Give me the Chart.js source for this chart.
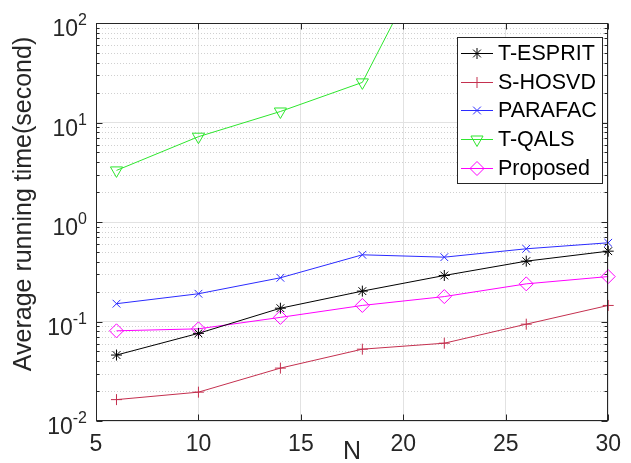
<!DOCTYPE html>
<html>
<head>
<meta charset="utf-8">
<title>Average running time</title>
<script src="https://cdn.jsdelivr.net/npm/chart.js@4.4.0/dist/chart.umd.min.js"></script>
<style>
  html, body { margin: 0; padding: 0; background: #fff; }
  #wrap { width: 631px; height: 463px; }
</style>
</head>
<body>
<div id="wrap"><canvas id="timeChart" width="631" height="463"></canvas></div>
<script>
// data (seconds, log axis)
const nValues = [6, 10, 14, 18, 22, 26, 30];
const tEspritTimes = [0.046, 0.076, 0.136, 0.202, 0.290, 0.404, 0.509];
const sHosvdTimes = [0.0164, 0.0195, 0.034, 0.0527, 0.0605, 0.094, 0.145];
const parafacTimes = [0.151, 0.190, 0.275, 0.468, 0.443, 0.538, 0.618];
const tQalsTimes = [3.3, 7.2, 12.9, 25.3, 1000, null, null];
const proposedTimes = [0.0806, 0.0844, 0.110, 0.145, 0.178, 0.239, 0.283];

const xTicks = [5, 10, 15, 20, 25, 30];
const yDecades = [0.01, 0.1, 1, 10, 100];
const yMinorTicks = [
  0.02, 0.03, 0.04, 0.05, 0.06, 0.07, 0.08, 0.09,
  0.2, 0.3, 0.4, 0.5, 0.6, 0.7, 0.8, 0.9,
  2, 3, 4, 5, 6, 7, 8, 9,
  20, 30, 40, 50, 60, 70, 80, 90
];

const fontFamily = "'Liberation Sans', Arial, Helvetica, sans-serif";
const axisColor = '#262626';

const toPoints = (vals) => nValues.map((n, i) => ({ x: n, y: vals[i] }));

const series = [
  { label: 'T-ESPRIT', data: tEspritTimes, color: '#000000', style: 'star', radius: 5.5, rotation: 0 },
  { label: 'S-HOSVD', data: sHosvdTimes, color: '#c4304f', style: 'cross', radius: 5.5, rotation: 0 },
  { label: 'PARAFAC', data: parafacTimes, color: '#2b2bff', style: 'crossRot', radius: 5.5, rotation: 0 },
  { label: 'T-QALS', data: tQalsTimes, color: '#2ee62e', style: 'triangle', radius: 7, rotation: 180 },
  { label: 'Proposed', data: proposedTimes, color: '#ff00ff', style: 'rectRot', radius: 7, rotation: 0 }
];

const datasets = series.map(s => ({
  label: s.label,
  data: toPoints(s.data),
  borderColor: s.color,
  backgroundColor: 'rgba(0,0,0,0)',
  borderWidth: 1,
  pointStyle: s.style,
  pointRotation: s.rotation,
  pointRadius: s.radius,
  pointBorderColor: s.color,
  pointBackgroundColor: 'rgba(0,0,0,0)',
  pointBorderWidth: 1,
  tension: 0,
  spanGaps: false,
  // only T-QALS runs off the top, the rest may overhang the box edges
  clip: s.label === 'T-QALS' ? { left: false, top: 0, right: false, bottom: false } : false
}));

// MATLAB style box, minor grid, tick marks, exponent labels, legend
const matlabAxes = {
  id: 'matlabAxes',
  beforeDatasetsDraw(chart) {
    const { ctx, chartArea: a, scales: { y } } = chart;
    ctx.save();
    ctx.strokeStyle = '#d0d0d0';
    ctx.lineWidth = 1;
    ctx.setLineDash([1, 2]);
    yMinorTicks.forEach(v => {
      const py = Math.round(y.getPixelForValue(v)) + 0.5;
      ctx.beginPath();
      ctx.moveTo(a.left, py);
      ctx.lineTo(a.right, py);
      ctx.stroke();
    });
    ctx.restore();
  },
  afterDraw(chart) {
    const { ctx, chartArea: a, scales: { x, y } } = chart;
    ctx.save();

    // box
    ctx.strokeStyle = axisColor;
    ctx.lineWidth = 1;
    const L = Math.round(a.left) + 0.5, R = Math.round(a.right) - 0.5;
    const T = Math.round(a.top) + 0.5, B = Math.round(a.bottom) - 0.5;
    ctx.strokeRect(L, T, R - L, B - T);

    // tick marks, inward on all four sides
    ctx.beginPath();
    yDecades.forEach(v => {
      const py = Math.round(y.getPixelForValue(v)) + 0.5;
      ctx.moveTo(L, py); ctx.lineTo(L + 6, py);
      ctx.moveTo(R, py); ctx.lineTo(R - 6, py);
    });
    yMinorTicks.forEach(v => {
      const py = Math.round(y.getPixelForValue(v)) + 0.5;
      ctx.moveTo(L, py); ctx.lineTo(L + 3, py);
      ctx.moveTo(R, py); ctx.lineTo(R - 3, py);
    });
    xTicks.forEach(v => {
      const px = Math.round(x.getPixelForValue(v)) + 0.5;
      ctx.moveTo(px, B); ctx.lineTo(px, B - 6);
      ctx.moveTo(px, T); ctx.lineTo(px, T + 6);
    });
    ctx.stroke();

    // y tick labels 10^n
    ctx.fillStyle = axisColor;
    ctx.textBaseline = 'alphabetic';
    yDecades.forEach(v => {
      const py = y.getPixelForValue(v);
      const exp = String(Math.round(Math.log10(v)));
      ctx.font = '16px ' + fontFamily;
      ctx.textAlign = 'right';
      const ew = ctx.measureText(exp).width;
      ctx.fillText(exp, 87, py + 2);
      ctx.font = '23px ' + fontFamily;
      ctx.fillText('10', 87 - ew, py + 13);
    });

    // axis titles
    ctx.textAlign = 'center';
    ctx.textBaseline = 'middle';
    ctx.font = '25px ' + fontFamily;
    ctx.fillText('N', (a.left + a.right) / 2, 452);
    ctx.save();
    ctx.translate(24, 204);
    ctx.rotate(-Math.PI / 2);
    ctx.fillText('Average running time(second)', 0, 0);
    ctx.restore();

    // legend box
    const lx = 457, ly = 37, lw = 146, lh = 147;
    ctx.fillStyle = '#ffffff';
    ctx.fillRect(lx, ly, lw, lh);
    ctx.strokeStyle = axisColor;
    ctx.strokeRect(lx + 0.5, ly + 0.5, lw - 1, lh - 1);
    ctx.font = '21.5px ' + fontFamily;
    ctx.textAlign = 'left';
    ctx.textBaseline = 'middle';
    chart.data.datasets.forEach((ds, i) => {
      const cy = Math.round(ly + 16 + i * 28.7) + 0.5;
      ctx.strokeStyle = ds.borderColor;
      ctx.lineWidth = 1;
      ctx.beginPath();
      ctx.moveTo(lx + 4, cy);
      ctx.lineTo(lx + 36, cy);
      ctx.stroke();
      ctx.fillStyle = 'rgba(0,0,0,0)';
      Chart.helpers.drawPoint(ctx, {
        pointStyle: ds.pointStyle,
        rotation: ds.pointRotation,
        radius: ds.pointRadius,
        borderWidth: 1
      }, lx + 20, cy);
      ctx.fillStyle = '#000000';
      ctx.fillText(ds.label, lx + 41, cy + 1);
    });

    ctx.restore();
  }
};

new Chart(document.getElementById('timeChart'), {
  type: 'line',
  data: { datasets },
  options: {
    responsive: false,
    animation: false,
    devicePixelRatio: 1,
    layout: { padding: { left: 0, top: 23, right: 21, bottom: 0 } },
    plugins: {
      legend: { display: false },
      tooltip: { enabled: false }
    },
    scales: {
      x: {
        type: 'linear',
        min: 5,
        max: 30,
        afterBuildTicks: s => { s.ticks = xTicks.map(v => ({ value: v })); },
        afterFit: s => { s.height = 42; },
        grid: { color: '#e2e2e2', drawTicks: false },
        border: { display: false },
        ticks: {
          font: { size: 23, family: fontFamily },
          color: axisColor,
          padding: 10,
          maxRotation: 0,
          autoSkip: false
        }
      },
      y: {
        type: 'logarithmic',
        min: 0.01,
        max: 100,
        afterBuildTicks: s => { s.ticks = yDecades.map(v => ({ value: v })); },
        afterFit: s => { s.width = 96; },
        grid: { color: '#e2e2e2', drawTicks: false },
        border: { display: false },
        ticks: { display: false }
      }
    }
  },
  plugins: [matlabAxes]
});
</script>
</body>
</html>
